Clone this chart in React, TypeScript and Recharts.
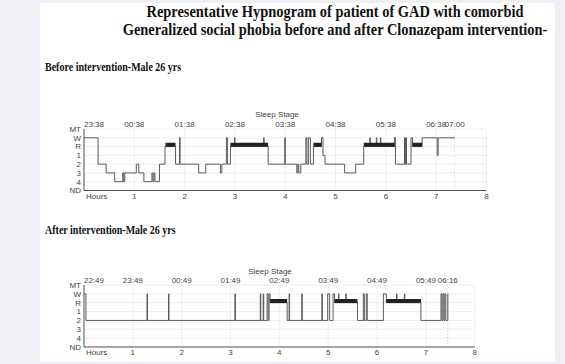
import React from "react";
import { LineChart, Line, XAxis, YAxis, CartesianGrid, ReferenceLine } from "recharts";

// stage order, bottom to top
const STAGE_LABELS = ["ND", "4", "3", "2", "1", "R", "W", "MT"];
const HOUR_TICKS = [0, 1, 2, 3, 4, 5, 6, 7, 8];

// before intervention
const beforeHours = [
  0, 0.28, 0.44, 0.61, 0.77, 0.79, 0.81, 1.04, 1.09, 1.19, 1.35, 1.37, 1.39, 1.41, 1.5, 1.61, 1.82, 1.9, 1.91,
  2.28, 2.42, 2.71, 2.74, 2.83, 2.85, 2.91, 2.99, 3.0, 3.57, 3.58, 3.66, 3.99, 4.0, 4.23, 4.25, 4.27, 4.31, 4.41,
  4.43, 4.46, 4.5, 4.56, 4.72, 4.75, 4.79, 5.18, 5.4, 5.56, 5.68, 5.69, 5.81, 5.82, 5.89, 5.9, 6.17, 6.19, 6.37,
  6.38, 6.39, 6.41, 6.5, 6.53, 6.72, 7.02, 7.04, 7.367,
];
const beforeStages = [
  "W", "2", "3", "4", "3", "4", "3", "2", "3", "4", "3", "4", "3", "4", "2", "R", "2", "W", "2",
  "3", "2", "3", "2", "W", "2", "R", "W", "R", "W", "R", "2", "W", "2", "3", "2", "3", "2", "W",
  "2", "W", "2", "R", "W", "1", "2", "3", "2", "R", "W", "R", "W", "R", "W", "R", "W", "2", "W",
  "2", "W", "2", "W", "R", "W", "1", "W", "W",
];
const beforeRem = [[1.62, 1.82], [2.91, 3.66], [4.56, 4.72], [5.56, 6.17], [6.53, 6.72]];
const beforeTimeTicks = [0, 1, 2, 3, 4, 5, 6, 7, 7.367];
const beforeTimeLabels = ["23:38", "00:38", "01:38", "02:38", "03:38", "04:38", "05:38", "06:38", "07:00"];

// after intervention
const afterHours = [
  0, 0.04, 1.29, 1.3, 1.73, 1.74, 3.09, 3.1, 3.61, 3.62, 3.67, 3.68, 3.75, 3.77, 3.79, 3.81, 4.16, 4.2, 4.21,
  4.46, 4.47, 4.87, 4.88, 4.99, 5.03, 5.1, 5.13, 5.21, 5.22, 5.36, 5.37, 5.6, 5.72, 5.74, 5.78, 5.8, 6.13, 6.19,
  6.4, 6.41, 6.56, 6.57, 6.9, 7.31, 7.33, 7.35, 7.37, 7.39, 7.41, 7.45,
];
const afterStages = [
  "W", "2", "W", "2", "W", "2", "W", "2", "W", "2", "W", "2", "W", "2", "W", "R", "2", "W", "2",
  "W", "2", "W", "2", "W", "2", "W", "R", "W", "R", "W", "R", "2", "W", "2", "W", "2", "W", "R",
  "W", "R", "W", "R", "2", "W", "2", "W", "2", "W", "2", "W",
];
const afterRem = [[3.81, 4.16], [5.13, 5.6], [6.19, 6.9]];
const afterTimeTicks = [0, 1, 2, 3, 4, 5, 6, 7, 7.45];
const afterTimeLabels = ["22:49", "23:49", "00:49", "01:49", "02:49", "03:49", "04:49", "05:49", "06:16"];

const SANS = "'Liberation Sans', Arial, sans-serif";
const SERIF = "'Liberation Serif', 'Times New Roman', serif";
const TXT = "#444";
const FS = 8;

function Hypnogram({ hours, stages, rem, timeTicks, timeLabels, left, top, plotWidth, plotHeight }: any) {
  const data = hours.map((t: number, i: number) => ({ t, stage: STAGE_LABELS.indexOf(stages[i]) }));
  const remData = rem.flatMap(([s, e]: number[]) => [
    { t: s, rem: 5.2 },
    { t: e, rem: 5.2 },
    { t: e, rem: null },
  ]);
  const endHour = hours[hours.length - 1];

  const TimeTick = (p: any) => (
    <text x={p.x} y={p.y} textAnchor={p.index === 0 ? "start" : "middle"} fontSize={FS} fontFamily={SANS} fill={TXT}>
      {timeLabels[p.index]}
    </text>
  );
  const HourTick = (p: any) => (
    <text x={p.x} y={p.y} dy={6.5} dx={p.index === 0 ? 2 : 0} textAnchor={p.index === 0 ? "start" : "middle"}
      fontSize={FS} fontFamily={SANS} fill={TXT}>
      {p.index === 0 ? "Hours" : p.payload.value}
    </text>
  );
  const StageTick = (p: any) => (
    <text x={p.x} y={p.y} dy={2.9} textAnchor="end" fontSize={FS} fontFamily={SANS} fill={TXT}>
      {STAGE_LABELS[p.payload.value]}
    </text>
  );

  return (
    <div style={{ position: "absolute", left, top }}>
      <LineChart width={30 + plotWidth + 10} height={14 + plotHeight + 16} margin={{ top: 0, right: 10, bottom: 0, left: 0 }}>
        <CartesianGrid stroke="#eeeeee" />
        <XAxis dataKey="t" type="number" domain={[0, 8]} ticks={HOUR_TICKS} interval={0} tickLine={false}
          tickSize={0} tickMargin={2} height={16} stroke="#555" tick={<HourTick />} allowDataOverflow />
        <XAxis xAxisId="top" dataKey="t" orientation="top" type="number" domain={[0, 8]} ticks={timeTicks}
          interval={0} axisLine={false} tickLine={false} tickSize={0} tickMargin={2} height={14}
          tick={<TimeTick />} allowDataOverflow />
        <YAxis type="number" domain={[0, 7]} ticks={[0, 1, 2, 3, 4, 5, 6, 7]} interval={0} width={30}
          tickLine={false} tickSize={0} tickMargin={3} stroke="#555" tick={<StageTick />} />
        <ReferenceLine x={endHour} stroke="#c8c8c8" strokeDasharray="1 2" />
        <Line data={data} xAxisId="top" dataKey="stage" stroke="none" dot={false} activeDot={false}
          isAnimationActive={false} />
        <Line data={data} dataKey="stage" type="stepAfter" stroke="#5a5a5a" strokeWidth={1} dot={false}
          activeDot={false} isAnimationActive={false} />
        <Line data={remData} dataKey="rem" type="linear" stroke="#222" strokeWidth={4} dot={false}
          activeDot={false} connectNulls={false} isAnimationActive={false} />
      </LineChart>
    </div>
  );
}

const subtitleStyle: React.CSSProperties = {
  position: "absolute", left: 45, whiteSpace: "nowrap", fontFamily: SERIF, fontWeight: "bold", fontSize: 12.5,
  lineHeight: "14px", color: "#111", transform: "scaleX(0.8)", transformOrigin: "left center",
};

export default function App() {
  return (
    <div style={{ position: "fixed", left: 0, top: 0, width: 565, height: 364, background: "#eff0f6", overflow: "hidden" }}>
      <div style={{ position: "absolute", left: 40, top: 3, width: 515, height: 359, background: "#fff" }} />
      <div style={{ position: "absolute", left: 335, top: 3, transform: "translateX(-50%) scaleX(0.9)", whiteSpace: "nowrap",
        fontFamily: SERIF, fontWeight: "bold", fontSize: 16, lineHeight: "18px", textAlign: "center", color: "#111" }}>
        Representative Hypnogram of patient of GAD with comorbid
        <br />
        Generalized social phobia before and after Clonazepam intervention-
      </div>
      <div style={{ ...subtitleStyle, top: 60 }}>Before intervention-Male 26 yrs</div>
      <div style={{ ...subtitleStyle, top: 223 }}>After intervention-Male 26 yrs</div>
      <div style={{ position: "absolute", left: 277, top: 110, transform: "translateX(-50%)", whiteSpace: "nowrap",
        fontFamily: SANS, fontSize: FS, lineHeight: "9px", color: TXT }}>Sleep Stage</div>
      <div style={{ position: "absolute", left: 270, top: 267, transform: "translateX(-50%)", whiteSpace: "nowrap",
        fontFamily: SANS, fontSize: FS, lineHeight: "9px", color: TXT }}>Sleep Stage</div>
      <Hypnogram hours={beforeHours} stages={beforeStages} rem={beforeRem} timeTicks={beforeTimeTicks}
        timeLabels={beforeTimeLabels} left={53.5} top={115} plotWidth={402.5} plotHeight={61.5} />
      <Hypnogram hours={afterHours} stages={afterStages} rem={afterRem} timeTicks={afterTimeTicks}
        timeLabels={afterTimeLabels} left={54.3} top={271} plotWidth={390.7} plotHeight={62} />
    </div>
  );
}
